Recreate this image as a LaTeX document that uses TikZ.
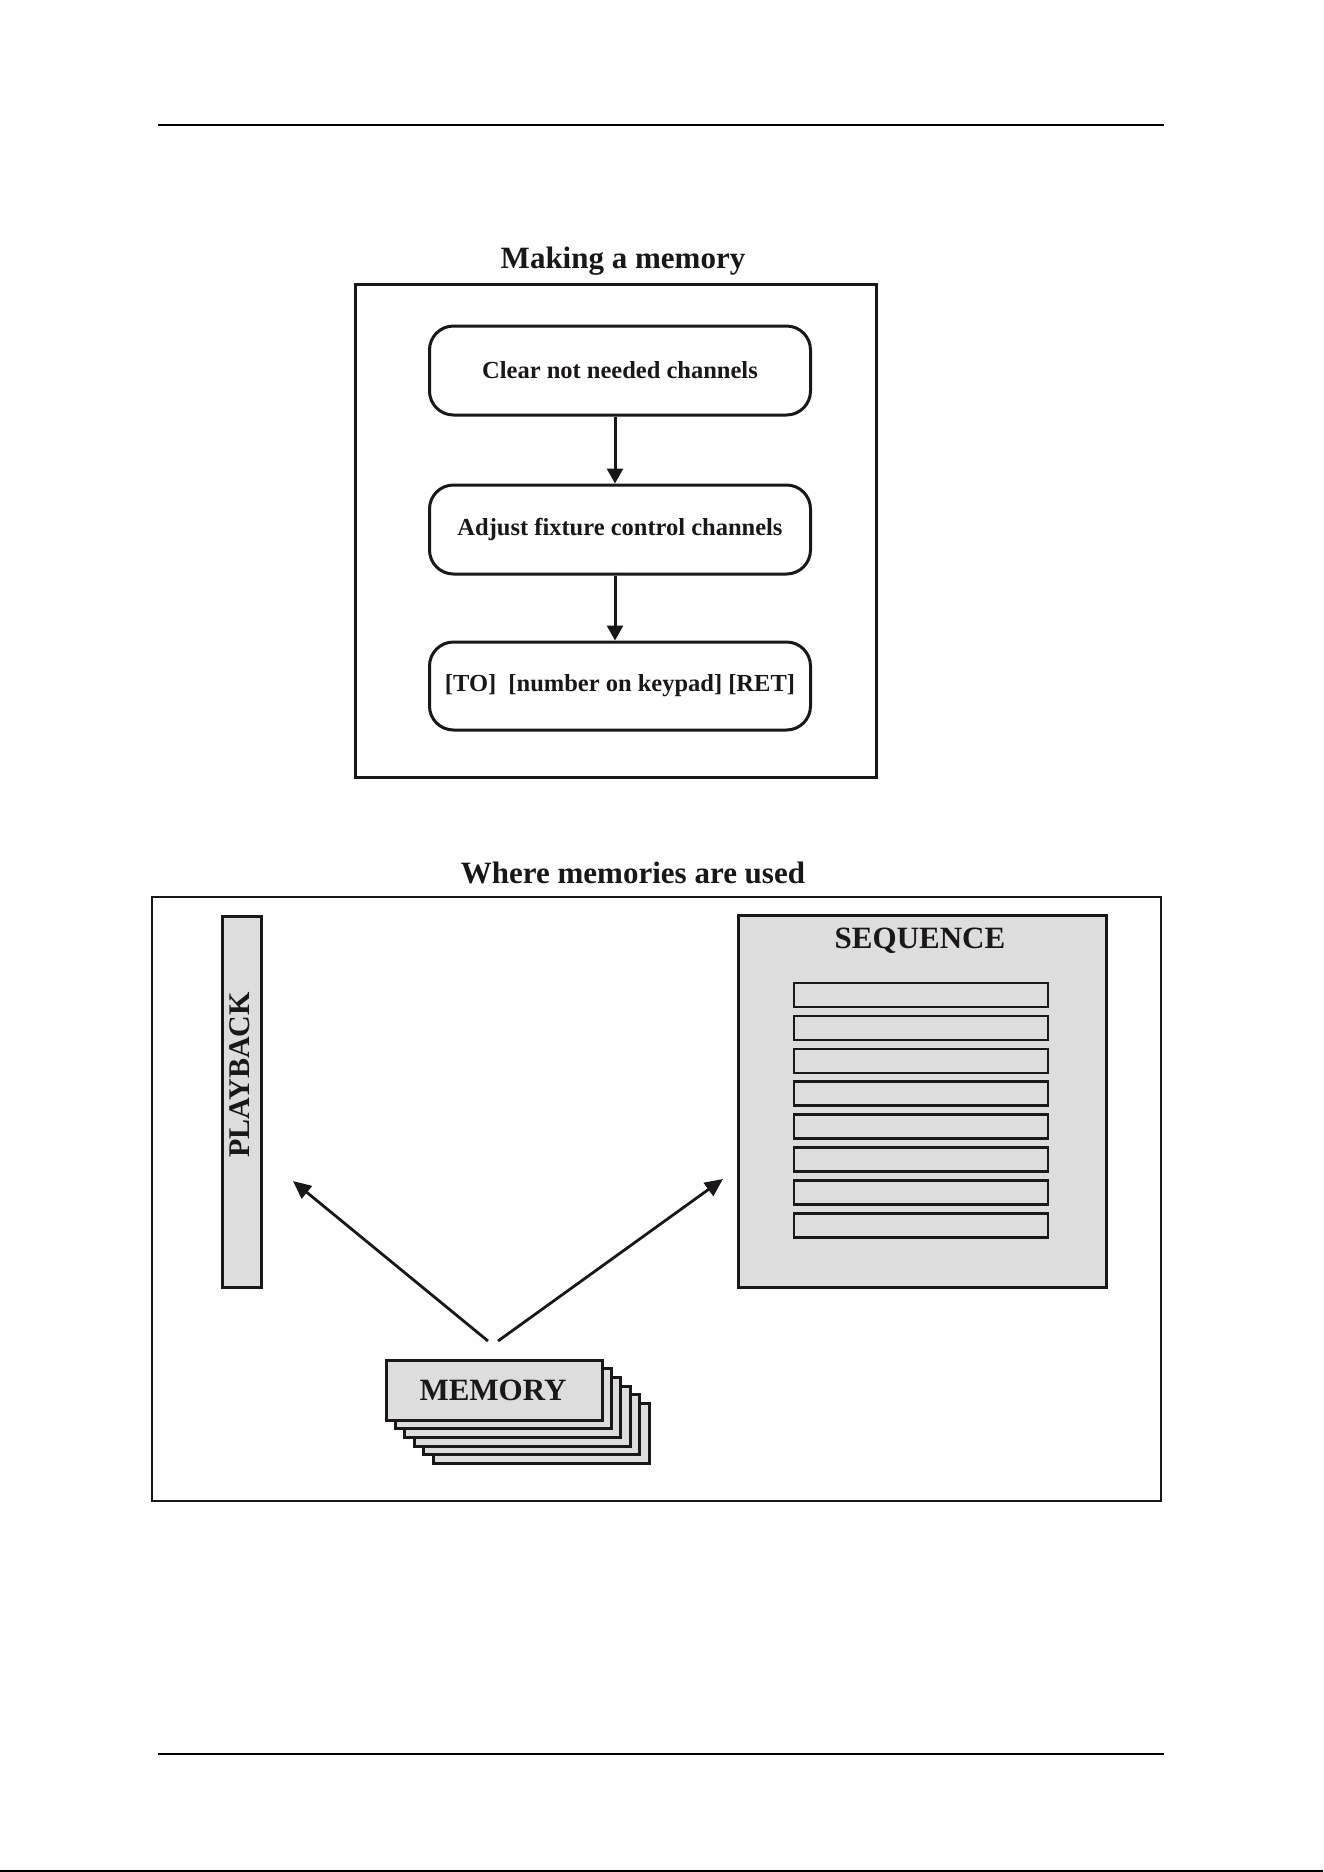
\documentclass[tikz,border=0pt]{standalone}
\usepackage{fontspec}
\setmainfont{Liberation Serif}
\usetikzlibrary{arrows.meta}
\definecolor{boxgray}{RGB}{221,221,221}
\definecolor{inkc}{RGB}{26,23,23}
\begin{document}
\begin{tikzpicture}[x=1pt,y=-1pt,
  ink/.style={draw=inkc},
  rule/.style={draw=black,line width=2.5pt},
  titletext/.style={font=\fontsize{31}{31}\selectfont\bfseries,text=inkc,inner sep=0pt},
  labeltext/.style={font=\fontsize{31}{31}\selectfont\bfseries,text=inkc,inner sep=0pt},
  stepbox/.style={draw=inkc,line width=3pt,rounded corners=24pt,minimum width=381pt,minimum height=89pt,inner sep=0pt,
    font=\fontsize{24.5}{24.5}\selectfont\bfseries,text=inkc},
  flowarrow/.style={draw=inkc,line width=3pt,-{Triangle[length=15pt,width=16pt]}},
  usearrow/.style={draw=inkc,line width=2.8pt,-{Triangle[length=18pt,width=16pt]}},
  graybox/.style={draw=inkc,fill=boxgray,line width=3pt,inner sep=0pt},
  rowbox/.style={draw=inkc,fill=boxgray,line width=2.6pt,minimum width=254pt,minimum height=24pt,inner sep=0pt},
  memcard/.style={draw=inkc,fill=boxgray,line width=3pt,minimum width=216pt,minimum height=60pt,inner sep=0pt}
]
\useasboundingbox (0,0) rectangle (1323,1872);
\fill[white] (0,0) rectangle (1323,1872);

% page rules
\draw[rule] (158,125) -- (1164,125);
\draw[rule] (158,1754) -- (1164,1754);
\draw[draw=black,line width=2pt] (0,1871) -- (1323,1871);

% ---------- Making a memory ----------
\node[titletext,anchor=base] (t1) at (623,268) {Making a memory};
\node[draw=inkc,line width=3pt,minimum width=521pt,minimum height=493pt,inner sep=0pt] (frame1) at (615.5,530.5) {};

\node[stepbox] (b1) at (620,370.5) {Clear not needed channels};
\node[stepbox] (b2) at (620,529.5) {Adjust fixture control channels};
\node[stepbox,minimum height=88pt] (b3) at (620,686) {[TO]\ \ [number on keypad] [RET]};

\draw[flowarrow] ([xshift=-5pt]b1.south) -- ([xshift=-5pt]b2.north);
\draw[flowarrow] ([xshift=-5pt]b2.south) -- ([xshift=-5pt]b3.north);

% ---------- Where memories are used ----------
\node[titletext,anchor=base] (t2) at (633,883) {Where memories are used};
\node[draw=inkc,line width=1.3pt,minimum width=1009pt,minimum height=604pt,inner sep=0pt] (frame2) at (656.5,1199) {};

% playback bar
\node[graybox,minimum width=39pt,minimum height=371pt] (pb) at (241.5,1101.5) {};
\node[labeltext,font=\fontsize{30}{30}\selectfont\bfseries,rotate=90] (pbl) at (240,1075) {PLAYBACK};

% sequence box
\node[graybox,minimum width=368pt,minimum height=372pt] (sq) at (922,1101) {};
\node[labeltext,anchor=base] (sql) at (920,948) {SEQUENCE};
\foreach \i in {0,...,7}{
  \node[rowbox] (row\i) at (921,{995+32.9*\i}) {};
}

% memory stack
\foreach \i in {5,4,...,1}{
  \node[memcard] (mem\i) at ({494+9.4*\i},{1390+8.7*\i}) {};
}
\node[memcard] (mem0) at (494,1390) {};
\node[labeltext] (meml) at (493,1390) {MEMORY};

% arrows
\coordinate (aL) at (488,1341);
\coordinate (aR) at (498,1341);
\coordinate (pbtip) at (293,1181);
\coordinate (sqtip) at (723,1179);
\draw[usearrow] (aL) -- (pbtip);
\draw[usearrow] (aR) -- (sqtip);
\end{tikzpicture}
\end{document}
